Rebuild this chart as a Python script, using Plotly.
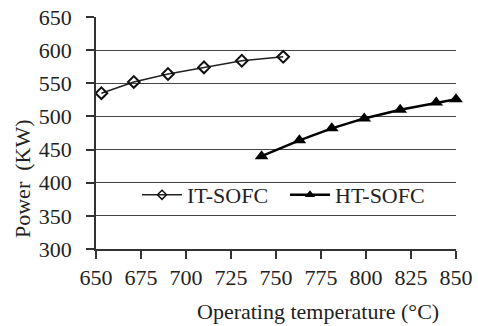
import plotly.graph_objects as go

it_temp = [653, 671, 690, 710, 731, 754]
it_power = [535, 552, 564, 574, 584, 590]
ht_temp = [742, 763, 781, 799, 819, 839, 850]
ht_power = [440, 464, 482, 497, 510, 521, 526]
x_ticks = [650, 675, 700, 725, 750, 775, 800, 825, 850]
y_ticks = [300, 350, 400, 450, 500, 550, 600, 650]

FONT = "Liberation Serif, Times New Roman, serif"

fig = go.Figure()
fig.add_trace(go.Scatter(
    x=it_temp, y=it_power, name="IT-SOFC", mode="lines+markers", showlegend=False,
    line=dict(color="#222222", width=1.5),
    marker=dict(symbol="diamond-open", size=9, color="#111111", line=dict(width=2)),
    cliponaxis=False,
))
fig.add_trace(go.Scatter(
    x=ht_temp, y=ht_power, name="HT-SOFC", mode="lines+markers", showlegend=False,
    line=dict(color="#000000", width=2.5),
    marker=dict(symbol="triangle-up", size=12, color="#000000"),
    cliponaxis=False,
))
# legend entries with the smaller legend markers of the original
fig.add_trace(go.Scatter(
    x=[None], y=[None], name="IT-SOFC", mode="lines+markers",
    line=dict(color="#222222", width=1.5),
    marker=dict(symbol="diamond-open", size=7, color="#111111", line=dict(width=1.5)),
))
fig.add_trace(go.Scatter(
    x=[None], y=[None], name="HT-SOFC", mode="lines+markers",
    line=dict(color="#000000", width=2.5),
    marker=dict(symbol="triangle-up", size=9, color="#000000"),
))

pl, pr, pt, pb = 96, 478 - 22, 17, 326 - 77

def px2paper(px, py):
    return (px - pl) / (pr - pl), (pb - py) / (pb - pt)

ax_, ay_ = px2paper(318, 311)
bx_, by_ = px2paper(22, 179)
lx_, ly_ = px2paper(137, 195)

fig.update_layout(
    width=478, height=326,
    margin=dict(l=pl, r=478 - pr, t=pt, b=326 - pb, autoexpand=False),
    paper_bgcolor="white", plot_bgcolor="white",
    font=dict(family=FONT, size=22, color="#222222"),
    showlegend=True,
    legend=dict(orientation="h", x=lx_, y=ly_, xanchor="left", yanchor="middle",
                bgcolor="rgba(0,0,0,0)", font=dict(size=22), itemwidth=40,
                entrywidth=93, entrywidthmode="pixels", tracegroupgap=0),
    xaxis=dict(range=[650, 850], tickvals=x_ticks, showgrid=False,
               showline=True, linecolor="#333333", linewidth=1.5,
               ticks="outside", ticklen=8, tickcolor="#333333", tickwidth=1.5,
               zeroline=False, ticklabelstandoff=0, automargin=False),
    yaxis=dict(range=[300, 650], tickvals=y_ticks, showgrid=True,
               gridcolor="#444444", gridwidth=1.3,
               showline=True, linecolor="#333333", linewidth=1.5,
               ticks="outside", ticklen=8, tickcolor="#333333", tickwidth=1.5,
               zeroline=False, ticklabelstandoff=10, automargin=False),
    annotations=[
        dict(text="Operating temperature (°C)", x=ax_, y=ay_, xref="paper", yref="paper",
             xanchor="center", yanchor="middle", showarrow=False, font=dict(size=22)),
        dict(text="Power  (KW)", x=bx_, y=by_, xref="paper", yref="paper",
             xanchor="center", yanchor="middle", textangle=-90, showarrow=False,
             font=dict(size=22)),
    ],
)

fig.write_html("out.html", config={"displayModeBar": False},
               post_script="document.body.style.margin='0';")
